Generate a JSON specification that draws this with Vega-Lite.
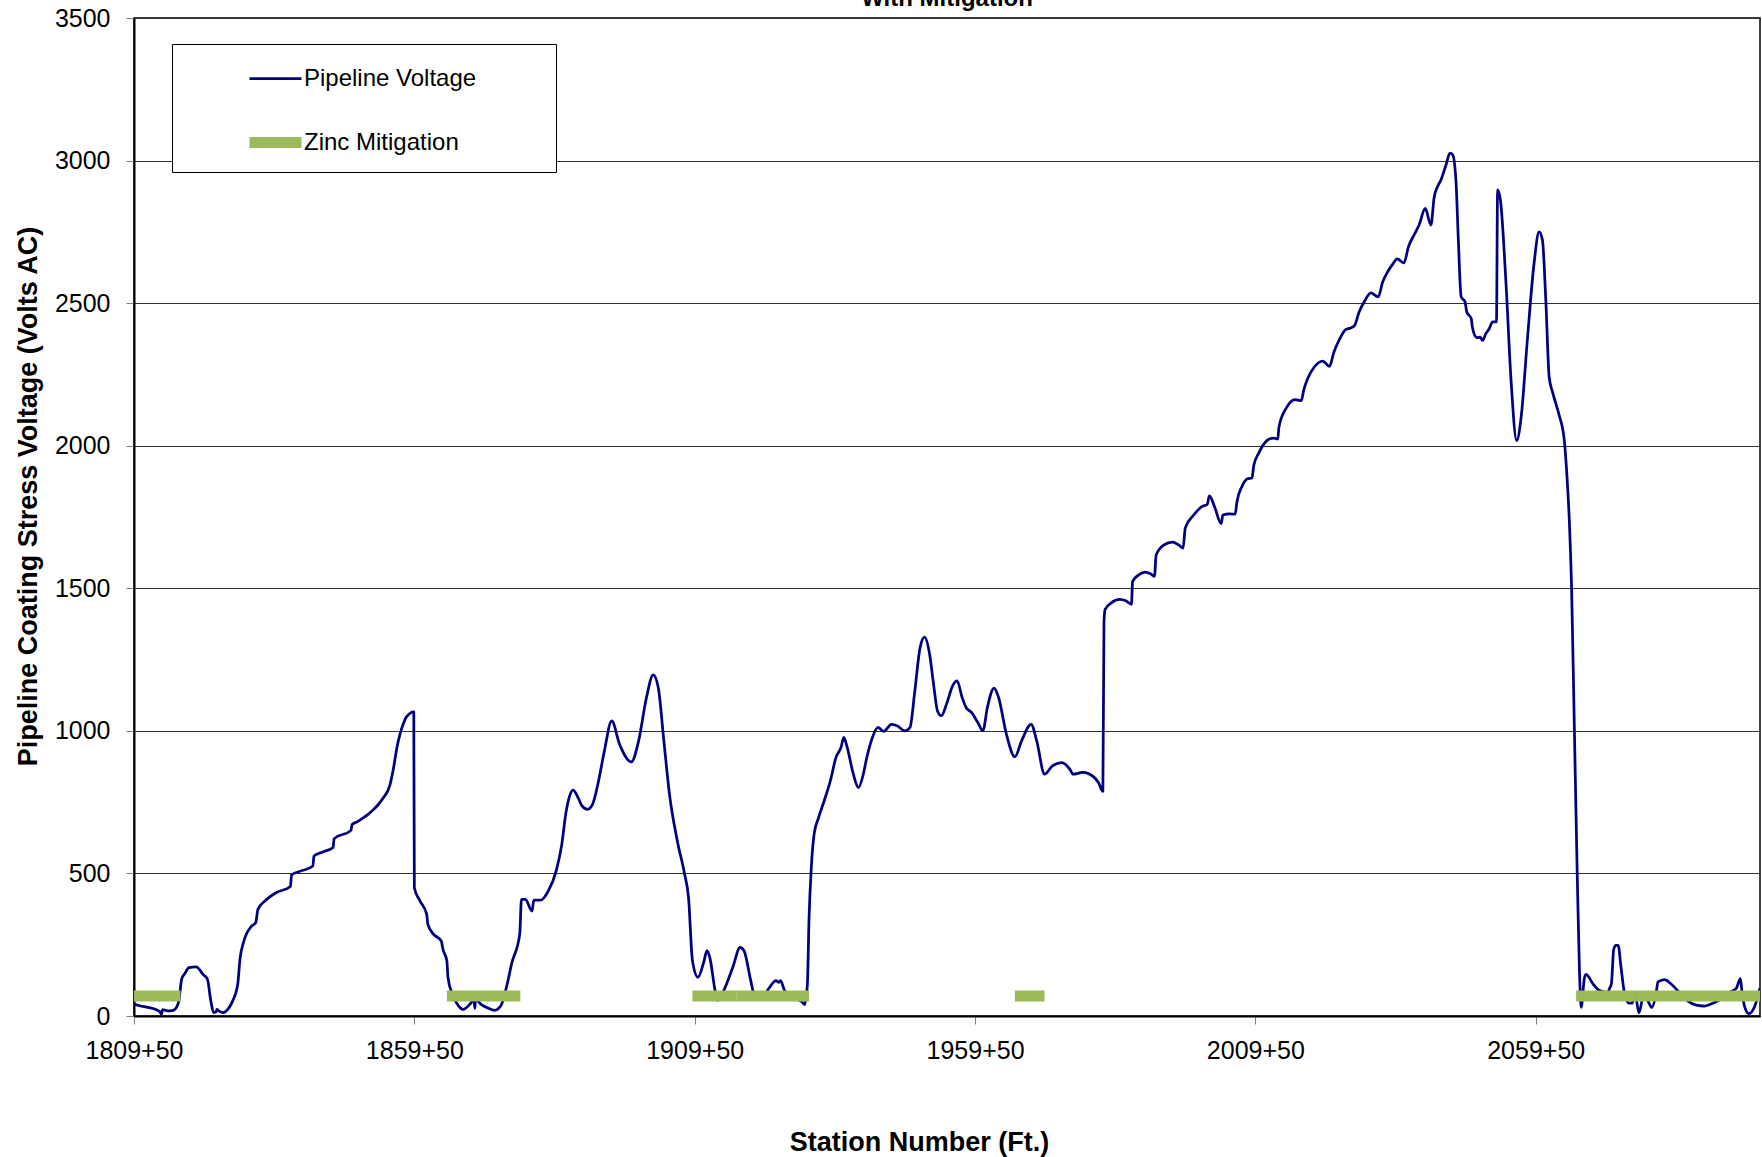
{
  "$schema": "https://vega.github.io/schema/vega-lite/v6.json",
  "width": 1626,
  "height": 998,
  "autosize": {"type": "none"},
  "padding": {"left": 134, "top": 18, "right": 2, "bottom": 141},
  "background": "white",
  "config": {
    "font": "Liberation Sans",
    "view": {"stroke": "#000", "strokeWidth": 1.5},
    "axis": {"labelColor": "#000", "titleColor": "#000", "labelFont": "Liberation Sans", "titleFont": "Liberation Sans"}
  },
  "title": {"text": "With Mitigation", "fontSize": 24, "fontWeight": "bold", "anchor": "middle", "frame": "group", "baseline": "bottom", "offset": -29, "color": "#000"},
  "datasets": {
    "voltage": [
      {"station": 1809.5, "volts": 42, "series": "Pipeline Voltage"},
      {"station": 1810.5, "volts": 36, "series": "Pipeline Voltage"},
      {"station": 1812.0, "volts": 30, "series": "Pipeline Voltage"},
      {"station": 1813.5, "volts": 22, "series": "Pipeline Voltage"},
      {"station": 1814.1, "volts": 15, "series": "Pipeline Voltage"},
      {"station": 1814.4, "volts": 6, "series": "Pipeline Voltage"},
      {"station": 1814.6, "volts": 22, "series": "Pipeline Voltage"},
      {"station": 1815.5, "volts": 18, "series": "Pipeline Voltage"},
      {"station": 1816.5, "volts": 20, "series": "Pipeline Voltage"},
      {"station": 1817.2, "volts": 35, "series": "Pipeline Voltage"},
      {"station": 1817.5, "volts": 53, "series": "Pipeline Voltage"},
      {"station": 1818.0, "volts": 129, "series": "Pipeline Voltage"},
      {"station": 1818.6, "volts": 150, "series": "Pipeline Voltage"},
      {"station": 1819.3, "volts": 170, "series": "Pipeline Voltage"},
      {"station": 1820.6, "volts": 172, "series": "Pipeline Voltage"},
      {"station": 1821.8, "volts": 146, "series": "Pipeline Voltage"},
      {"station": 1822.6, "volts": 129, "series": "Pipeline Voltage"},
      {"station": 1823.2, "volts": 53, "series": "Pipeline Voltage"},
      {"station": 1823.7, "volts": 12, "series": "Pipeline Voltage"},
      {"station": 1824.1, "volts": 14, "series": "Pipeline Voltage"},
      {"station": 1824.3, "volts": 23, "series": "Pipeline Voltage"},
      {"station": 1824.7, "volts": 17, "series": "Pipeline Voltage"},
      {"station": 1825.4, "volts": 12, "series": "Pipeline Voltage"},
      {"station": 1826.3, "volts": 25, "series": "Pipeline Voltage"},
      {"station": 1827.1, "volts": 53, "series": "Pipeline Voltage"},
      {"station": 1828.0, "volts": 111, "series": "Pipeline Voltage"},
      {"station": 1828.4, "volts": 199, "series": "Pipeline Voltage"},
      {"station": 1829.1, "volts": 263, "series": "Pipeline Voltage"},
      {"station": 1830.5, "volts": 316, "series": "Pipeline Voltage"},
      {"station": 1831.2, "volts": 327, "series": "Pipeline Voltage"},
      {"station": 1831.6, "volts": 374, "series": "Pipeline Voltage"},
      {"station": 1832.9, "volts": 404, "series": "Pipeline Voltage"},
      {"station": 1834.9, "volts": 433, "series": "Pipeline Voltage"},
      {"station": 1837.4, "volts": 454, "series": "Pipeline Voltage"},
      {"station": 1837.6, "volts": 495, "series": "Pipeline Voltage"},
      {"station": 1839.5, "volts": 510, "series": "Pipeline Voltage"},
      {"station": 1841.4, "volts": 526, "series": "Pipeline Voltage"},
      {"station": 1841.6, "volts": 561, "series": "Pipeline Voltage"},
      {"station": 1843.3, "volts": 576, "series": "Pipeline Voltage"},
      {"station": 1845.0, "volts": 591, "series": "Pipeline Voltage"},
      {"station": 1845.2, "volts": 622, "series": "Pipeline Voltage"},
      {"station": 1848.2, "volts": 651, "series": "Pipeline Voltage"},
      {"station": 1848.4, "volts": 672, "series": "Pipeline Voltage"},
      {"station": 1849.3, "volts": 681, "series": "Pipeline Voltage"},
      {"station": 1850.3, "volts": 694, "series": "Pipeline Voltage"},
      {"station": 1851.3, "volts": 708, "series": "Pipeline Voltage"},
      {"station": 1852.1, "volts": 722, "series": "Pipeline Voltage"},
      {"station": 1853.0, "volts": 740, "series": "Pipeline Voltage"},
      {"station": 1854.0, "volts": 766, "series": "Pipeline Voltage"},
      {"station": 1855.1, "volts": 807, "series": "Pipeline Voltage"},
      {"station": 1855.7, "volts": 860, "series": "Pipeline Voltage"},
      {"station": 1856.4, "volts": 942, "series": "Pipeline Voltage"},
      {"station": 1857.5, "volts": 1023, "series": "Pipeline Voltage"},
      {"station": 1858.1, "volts": 1049, "series": "Pipeline Voltage"},
      {"station": 1859.4, "volts": 1067, "series": "Pipeline Voltage"},
      {"station": 1859.5, "volts": 450, "series": "Pipeline Voltage"},
      {"station": 1860.5, "volts": 404, "series": "Pipeline Voltage"},
      {"station": 1861.7, "volts": 357, "series": "Pipeline Voltage"},
      {"station": 1861.9, "volts": 322, "series": "Pipeline Voltage"},
      {"station": 1862.9, "volts": 287, "series": "Pipeline Voltage"},
      {"station": 1864.3, "volts": 263, "series": "Pipeline Voltage"},
      {"station": 1864.6, "volts": 234, "series": "Pipeline Voltage"},
      {"station": 1865.3, "volts": 193, "series": "Pipeline Voltage"},
      {"station": 1865.5, "volts": 135, "series": "Pipeline Voltage"},
      {"station": 1866.3, "volts": 76, "series": "Pipeline Voltage"},
      {"station": 1867.4, "volts": 35, "series": "Pipeline Voltage"},
      {"station": 1868.2, "volts": 23, "series": "Pipeline Voltage"},
      {"station": 1869.4, "volts": 41, "series": "Pipeline Voltage"},
      {"station": 1870.1, "volts": 58, "series": "Pipeline Voltage"},
      {"station": 1870.3, "volts": 27, "series": "Pipeline Voltage"},
      {"station": 1870.4, "volts": 58, "series": "Pipeline Voltage"},
      {"station": 1871.4, "volts": 41, "series": "Pipeline Voltage"},
      {"station": 1872.6, "volts": 28, "series": "Pipeline Voltage"},
      {"station": 1873.8, "volts": 20, "series": "Pipeline Voltage"},
      {"station": 1874.9, "volts": 35, "series": "Pipeline Voltage"},
      {"station": 1875.9, "volts": 99, "series": "Pipeline Voltage"},
      {"station": 1876.9, "volts": 187, "series": "Pipeline Voltage"},
      {"station": 1878.3, "volts": 287, "series": "Pipeline Voltage"},
      {"station": 1878.6, "volts": 409, "series": "Pipeline Voltage"},
      {"station": 1879.3, "volts": 409, "series": "Pipeline Voltage"},
      {"station": 1880.5, "volts": 368, "series": "Pipeline Voltage"},
      {"station": 1880.8, "volts": 406, "series": "Pipeline Voltage"},
      {"station": 1882.0, "volts": 406, "series": "Pipeline Voltage"},
      {"station": 1883.4, "volts": 439, "series": "Pipeline Voltage"},
      {"station": 1884.8, "volts": 509, "series": "Pipeline Voltage"},
      {"station": 1885.8, "volts": 602, "series": "Pipeline Voltage"},
      {"station": 1886.5, "volts": 708, "series": "Pipeline Voltage"},
      {"station": 1887.2, "volts": 772, "series": "Pipeline Voltage"},
      {"station": 1887.8, "volts": 792, "series": "Pipeline Voltage"},
      {"station": 1888.7, "volts": 766, "series": "Pipeline Voltage"},
      {"station": 1889.4, "volts": 737, "series": "Pipeline Voltage"},
      {"station": 1890.4, "volts": 725, "series": "Pipeline Voltage"},
      {"station": 1891.3, "volts": 743, "series": "Pipeline Voltage"},
      {"station": 1892.3, "volts": 819, "series": "Pipeline Voltage"},
      {"station": 1893.4, "volts": 930, "series": "Pipeline Voltage"},
      {"station": 1894.7, "volts": 1035, "series": "Pipeline Voltage"},
      {"station": 1896.1, "volts": 953, "series": "Pipeline Voltage"},
      {"station": 1898.2, "volts": 891, "series": "Pipeline Voltage"},
      {"station": 1899.5, "volts": 965, "series": "Pipeline Voltage"},
      {"station": 1900.9, "volts": 1117, "series": "Pipeline Voltage"},
      {"station": 1902.1, "volts": 1196, "series": "Pipeline Voltage"},
      {"station": 1903.0, "volts": 1152, "series": "Pipeline Voltage"},
      {"station": 1904.0, "volts": 965, "series": "Pipeline Voltage"},
      {"station": 1905.0, "volts": 778, "series": "Pipeline Voltage"},
      {"station": 1906.4, "volts": 614, "series": "Pipeline Voltage"},
      {"station": 1907.7, "volts": 498, "series": "Pipeline Voltage"},
      {"station": 1908.4, "volts": 416, "series": "Pipeline Voltage"},
      {"station": 1909.1, "volts": 194, "series": "Pipeline Voltage"},
      {"station": 1910.1, "volts": 136, "series": "Pipeline Voltage"},
      {"station": 1911.1, "volts": 188, "series": "Pipeline Voltage"},
      {"station": 1911.7, "volts": 229, "series": "Pipeline Voltage"},
      {"station": 1912.2, "volts": 205, "series": "Pipeline Voltage"},
      {"station": 1913.2, "volts": 83, "series": "Pipeline Voltage"},
      {"station": 1913.6, "volts": 55, "series": "Pipeline Voltage"},
      {"station": 1914.2, "volts": 70, "series": "Pipeline Voltage"},
      {"station": 1916.3, "volts": 171, "series": "Pipeline Voltage"},
      {"station": 1917.6, "volts": 241, "series": "Pipeline Voltage"},
      {"station": 1918.3, "volts": 229, "series": "Pipeline Voltage"},
      {"station": 1919.5, "volts": 124, "series": "Pipeline Voltage"},
      {"station": 1920.0, "volts": 83, "series": "Pipeline Voltage"},
      {"station": 1921.4, "volts": 60, "series": "Pipeline Voltage"},
      {"station": 1922.7, "volts": 96, "series": "Pipeline Voltage"},
      {"station": 1924.0, "volts": 124, "series": "Pipeline Voltage"},
      {"station": 1924.5, "volts": 118, "series": "Pipeline Voltage"},
      {"station": 1924.8, "volts": 124, "series": "Pipeline Voltage"},
      {"station": 1925.5, "volts": 91, "series": "Pipeline Voltage"},
      {"station": 1926.8, "volts": 65, "series": "Pipeline Voltage"},
      {"station": 1928.6, "volts": 50, "series": "Pipeline Voltage"},
      {"station": 1929.1, "volts": 40, "series": "Pipeline Voltage"},
      {"station": 1929.6, "volts": 112, "series": "Pipeline Voltage"},
      {"station": 1929.9, "volts": 346, "series": "Pipeline Voltage"},
      {"station": 1930.3, "volts": 521, "series": "Pipeline Voltage"},
      {"station": 1930.8, "volts": 638, "series": "Pipeline Voltage"},
      {"station": 1931.6, "volts": 696, "series": "Pipeline Voltage"},
      {"station": 1932.6, "volts": 755, "series": "Pipeline Voltage"},
      {"station": 1933.7, "volts": 825, "series": "Pipeline Voltage"},
      {"station": 1934.7, "volts": 907, "series": "Pipeline Voltage"},
      {"station": 1935.6, "volts": 942, "series": "Pipeline Voltage"},
      {"station": 1936.1, "volts": 977, "series": "Pipeline Voltage"},
      {"station": 1936.7, "volts": 942, "series": "Pipeline Voltage"},
      {"station": 1937.8, "volts": 848, "series": "Pipeline Voltage"},
      {"station": 1938.7, "volts": 801, "series": "Pipeline Voltage"},
      {"station": 1939.5, "volts": 842, "series": "Pipeline Voltage"},
      {"station": 1940.2, "volts": 907, "series": "Pipeline Voltage"},
      {"station": 1941.2, "volts": 977, "series": "Pipeline Voltage"},
      {"station": 1942.2, "volts": 1012, "series": "Pipeline Voltage"},
      {"station": 1943.2, "volts": 998, "series": "Pipeline Voltage"},
      {"station": 1944.6, "volts": 1023, "series": "Pipeline Voltage"},
      {"station": 1945.6, "volts": 1018, "series": "Pipeline Voltage"},
      {"station": 1947.0, "volts": 1000, "series": "Pipeline Voltage"},
      {"station": 1947.9, "volts": 1012, "series": "Pipeline Voltage"},
      {"station": 1948.7, "volts": 1129, "series": "Pipeline Voltage"},
      {"station": 1949.7, "volts": 1292, "series": "Pipeline Voltage"},
      {"station": 1950.5, "volts": 1329, "series": "Pipeline Voltage"},
      {"station": 1951.4, "volts": 1269, "series": "Pipeline Voltage"},
      {"station": 1952.1, "volts": 1164, "series": "Pipeline Voltage"},
      {"station": 1952.8, "volts": 1070, "series": "Pipeline Voltage"},
      {"station": 1953.5, "volts": 1053, "series": "Pipeline Voltage"},
      {"station": 1954.5, "volts": 1099, "series": "Pipeline Voltage"},
      {"station": 1955.5, "volts": 1158, "series": "Pipeline Voltage"},
      {"station": 1956.3, "volts": 1175, "series": "Pipeline Voltage"},
      {"station": 1957.2, "volts": 1117, "series": "Pipeline Voltage"},
      {"station": 1957.9, "volts": 1082, "series": "Pipeline Voltage"},
      {"station": 1958.9, "volts": 1064, "series": "Pipeline Voltage"},
      {"station": 1960.0, "volts": 1029, "series": "Pipeline Voltage"},
      {"station": 1960.9, "volts": 1000, "series": "Pipeline Voltage"},
      {"station": 1961.7, "volts": 1082, "series": "Pipeline Voltage"},
      {"station": 1962.9, "volts": 1150, "series": "Pipeline Voltage"},
      {"station": 1963.7, "volts": 1117, "series": "Pipeline Voltage"},
      {"station": 1965.1, "volts": 988, "series": "Pipeline Voltage"},
      {"station": 1966.6, "volts": 909, "series": "Pipeline Voltage"},
      {"station": 1967.8, "volts": 965, "series": "Pipeline Voltage"},
      {"station": 1969.5, "volts": 1023, "series": "Pipeline Voltage"},
      {"station": 1970.5, "volts": 965, "series": "Pipeline Voltage"},
      {"station": 1971.9, "volts": 848, "series": "Pipeline Voltage"},
      {"station": 1973.3, "volts": 877, "series": "Pipeline Voltage"},
      {"station": 1975.0, "volts": 889, "series": "Pipeline Voltage"},
      {"station": 1976.4, "volts": 866, "series": "Pipeline Voltage"},
      {"station": 1977.0, "volts": 848, "series": "Pipeline Voltage"},
      {"station": 1978.7, "volts": 854, "series": "Pipeline Voltage"},
      {"station": 1980.8, "volts": 836, "series": "Pipeline Voltage"},
      {"station": 1981.5, "volts": 819, "series": "Pipeline Voltage"},
      {"station": 1982.3, "volts": 788, "series": "Pipeline Voltage"},
      {"station": 1982.5, "volts": 1381, "series": "Pipeline Voltage"},
      {"station": 1982.7, "volts": 1426, "series": "Pipeline Voltage"},
      {"station": 1983.8, "volts": 1449, "series": "Pipeline Voltage"},
      {"station": 1985.3, "volts": 1461, "series": "Pipeline Voltage"},
      {"station": 1986.4, "volts": 1456, "series": "Pipeline Voltage"},
      {"station": 1987.4, "volts": 1444, "series": "Pipeline Voltage"},
      {"station": 1987.6, "volts": 1524, "series": "Pipeline Voltage"},
      {"station": 1988.7, "volts": 1547, "series": "Pipeline Voltage"},
      {"station": 1989.8, "volts": 1557, "series": "Pipeline Voltage"},
      {"station": 1990.8, "volts": 1551, "series": "Pipeline Voltage"},
      {"station": 1991.5, "volts": 1542, "series": "Pipeline Voltage"},
      {"station": 1991.8, "volts": 1617, "series": "Pipeline Voltage"},
      {"station": 1993.2, "volts": 1652, "series": "Pipeline Voltage"},
      {"station": 1994.7, "volts": 1662, "series": "Pipeline Voltage"},
      {"station": 1995.8, "volts": 1652, "series": "Pipeline Voltage"},
      {"station": 1996.6, "volts": 1641, "series": "Pipeline Voltage"},
      {"station": 1997.0, "volts": 1712, "series": "Pipeline Voltage"},
      {"station": 1998.5, "volts": 1757, "series": "Pipeline Voltage"},
      {"station": 2000.0, "volts": 1787, "series": "Pipeline Voltage"},
      {"station": 2000.9, "volts": 1794, "series": "Pipeline Voltage"},
      {"station": 2001.3, "volts": 1824, "series": "Pipeline Voltage"},
      {"station": 2002.2, "volts": 1787, "series": "Pipeline Voltage"},
      {"station": 2003.4, "volts": 1727, "series": "Pipeline Voltage"},
      {"station": 2003.7, "volts": 1757, "series": "Pipeline Voltage"},
      {"station": 2004.9, "volts": 1761, "series": "Pipeline Voltage"},
      {"station": 2005.9, "volts": 1760, "series": "Pipeline Voltage"},
      {"station": 2006.2, "volts": 1802, "series": "Pipeline Voltage"},
      {"station": 2007.1, "volts": 1857, "series": "Pipeline Voltage"},
      {"station": 2008.1, "volts": 1884, "series": "Pipeline Voltage"},
      {"station": 2008.9, "volts": 1887, "series": "Pipeline Voltage"},
      {"station": 2009.2, "volts": 1929, "series": "Pipeline Voltage"},
      {"station": 2010.1, "volts": 1974, "series": "Pipeline Voltage"},
      {"station": 2011.7, "volts": 2020, "series": "Pipeline Voltage"},
      {"station": 2012.8, "volts": 2027, "series": "Pipeline Voltage"},
      {"station": 2013.5, "volts": 2023, "series": "Pipeline Voltage"},
      {"station": 2013.7, "volts": 2065, "series": "Pipeline Voltage"},
      {"station": 2015.0, "volts": 2132, "series": "Pipeline Voltage"},
      {"station": 2016.6, "volts": 2162, "series": "Pipeline Voltage"},
      {"station": 2017.7, "volts": 2158, "series": "Pipeline Voltage"},
      {"station": 2018.1, "volts": 2193, "series": "Pipeline Voltage"},
      {"station": 2018.8, "volts": 2234, "series": "Pipeline Voltage"},
      {"station": 2020.0, "volts": 2276, "series": "Pipeline Voltage"},
      {"station": 2021.5, "volts": 2297, "series": "Pipeline Voltage"},
      {"station": 2022.7, "volts": 2278, "series": "Pipeline Voltage"},
      {"station": 2023.5, "volts": 2328, "series": "Pipeline Voltage"},
      {"station": 2024.4, "volts": 2369, "series": "Pipeline Voltage"},
      {"station": 2025.6, "volts": 2407, "series": "Pipeline Voltage"},
      {"station": 2026.5, "volts": 2413, "series": "Pipeline Voltage"},
      {"station": 2027.2, "volts": 2422, "series": "Pipeline Voltage"},
      {"station": 2028.0, "volts": 2469, "series": "Pipeline Voltage"},
      {"station": 2028.9, "volts": 2504, "series": "Pipeline Voltage"},
      {"station": 2030.1, "volts": 2536, "series": "Pipeline Voltage"},
      {"station": 2031.4, "volts": 2522, "series": "Pipeline Voltage"},
      {"station": 2032.2, "volts": 2574, "series": "Pipeline Voltage"},
      {"station": 2033.1, "volts": 2610, "series": "Pipeline Voltage"},
      {"station": 2034.0, "volts": 2637, "series": "Pipeline Voltage"},
      {"station": 2034.8, "volts": 2655, "series": "Pipeline Voltage"},
      {"station": 2036.0, "volts": 2641, "series": "Pipeline Voltage"},
      {"station": 2036.8, "volts": 2698, "series": "Pipeline Voltage"},
      {"station": 2037.8, "volts": 2739, "series": "Pipeline Voltage"},
      {"station": 2038.7, "volts": 2774, "series": "Pipeline Voltage"},
      {"station": 2039.8, "volts": 2832, "series": "Pipeline Voltage"},
      {"station": 2040.8, "volts": 2774, "series": "Pipeline Voltage"},
      {"station": 2041.4, "volts": 2873, "series": "Pipeline Voltage"},
      {"station": 2042.0, "volts": 2909, "series": "Pipeline Voltage"},
      {"station": 2042.6, "volts": 2932, "series": "Pipeline Voltage"},
      {"station": 2043.5, "volts": 2985, "series": "Pipeline Voltage"},
      {"station": 2044.2, "volts": 3026, "series": "Pipeline Voltage"},
      {"station": 2044.7, "volts": 3020, "series": "Pipeline Voltage"},
      {"station": 2045.3, "volts": 2920, "series": "Pipeline Voltage"},
      {"station": 2045.7, "volts": 2721, "series": "Pipeline Voltage"},
      {"station": 2046.2, "volts": 2522, "series": "Pipeline Voltage"},
      {"station": 2046.9, "volts": 2504, "series": "Pipeline Voltage"},
      {"station": 2047.2, "volts": 2469, "series": "Pipeline Voltage"},
      {"station": 2048.0, "volts": 2446, "series": "Pipeline Voltage"},
      {"station": 2048.2, "volts": 2416, "series": "Pipeline Voltage"},
      {"station": 2049.0, "volts": 2379, "series": "Pipeline Voltage"},
      {"station": 2049.6, "volts": 2381, "series": "Pipeline Voltage"},
      {"station": 2050.0, "volts": 2369, "series": "Pipeline Voltage"},
      {"station": 2050.6, "volts": 2393, "series": "Pipeline Voltage"},
      {"station": 2051.2, "volts": 2410, "series": "Pipeline Voltage"},
      {"station": 2051.8, "volts": 2434, "series": "Pipeline Voltage"},
      {"station": 2052.5, "volts": 2434, "series": "Pipeline Voltage"},
      {"station": 2052.7, "volts": 2897, "series": "Pipeline Voltage"},
      {"station": 2053.2, "volts": 2862, "series": "Pipeline Voltage"},
      {"station": 2054.2, "volts": 2569, "series": "Pipeline Voltage"},
      {"station": 2055.1, "volts": 2229, "series": "Pipeline Voltage"},
      {"station": 2056.1, "volts": 2018, "series": "Pipeline Voltage"},
      {"station": 2056.9, "volts": 2100, "series": "Pipeline Voltage"},
      {"station": 2058.0, "volts": 2369, "series": "Pipeline Voltage"},
      {"station": 2059.2, "volts": 2639, "series": "Pipeline Voltage"},
      {"station": 2060.1, "volts": 2750, "series": "Pipeline Voltage"},
      {"station": 2060.7, "volts": 2721, "series": "Pipeline Voltage"},
      {"station": 2061.3, "volts": 2510, "series": "Pipeline Voltage"},
      {"station": 2061.9, "volts": 2240, "series": "Pipeline Voltage"},
      {"station": 2062.5, "volts": 2188, "series": "Pipeline Voltage"},
      {"station": 2063.1, "volts": 2147, "series": "Pipeline Voltage"},
      {"station": 2063.7, "volts": 2106, "series": "Pipeline Voltage"},
      {"station": 2064.6, "volts": 2018, "series": "Pipeline Voltage"},
      {"station": 2065.1, "volts": 1884, "series": "Pipeline Voltage"},
      {"station": 2065.5, "volts": 1734, "series": "Pipeline Voltage"},
      {"station": 2065.9, "volts": 1500, "series": "Pipeline Voltage"},
      {"station": 2066.4, "volts": 1000, "series": "Pipeline Voltage"},
      {"station": 2066.9, "volts": 500, "series": "Pipeline Voltage"},
      {"station": 2067.3, "volts": 158, "series": "Pipeline Voltage"},
      {"station": 2067.6, "volts": 30, "series": "Pipeline Voltage"},
      {"station": 2068.2, "volts": 135, "series": "Pipeline Voltage"},
      {"station": 2068.5, "volts": 146, "series": "Pipeline Voltage"},
      {"station": 2069.7, "volts": 113, "series": "Pipeline Voltage"},
      {"station": 2070.8, "volts": 90, "series": "Pipeline Voltage"},
      {"station": 2072.3, "volts": 83, "series": "Pipeline Voltage"},
      {"station": 2072.7, "volts": 98, "series": "Pipeline Voltage"},
      {"station": 2073.0, "volts": 113, "series": "Pipeline Voltage"},
      {"station": 2073.4, "volts": 233, "series": "Pipeline Voltage"},
      {"station": 2073.8, "volts": 248, "series": "Pipeline Voltage"},
      {"station": 2074.2, "volts": 248, "series": "Pipeline Voltage"},
      {"station": 2074.7, "volts": 173, "series": "Pipeline Voltage"},
      {"station": 2075.3, "volts": 83, "series": "Pipeline Voltage"},
      {"station": 2076.1, "volts": 45, "series": "Pipeline Voltage"},
      {"station": 2076.7, "volts": 45, "series": "Pipeline Voltage"},
      {"station": 2077.2, "volts": 83, "series": "Pipeline Voltage"},
      {"station": 2077.9, "volts": 11, "series": "Pipeline Voltage"},
      {"station": 2078.7, "volts": 68, "series": "Pipeline Voltage"},
      {"station": 2079.5, "volts": 53, "series": "Pipeline Voltage"},
      {"station": 2080.2, "volts": 30, "series": "Pipeline Voltage"},
      {"station": 2081.0, "volts": 83, "series": "Pipeline Voltage"},
      {"station": 2081.3, "volts": 120, "series": "Pipeline Voltage"},
      {"station": 2082.5, "volts": 128, "series": "Pipeline Voltage"},
      {"station": 2083.6, "volts": 113, "series": "Pipeline Voltage"},
      {"station": 2085.1, "volts": 83, "series": "Pipeline Voltage"},
      {"station": 2086.6, "volts": 53, "series": "Pipeline Voltage"},
      {"station": 2088.1, "volts": 38, "series": "Pipeline Voltage"},
      {"station": 2089.6, "volts": 35, "series": "Pipeline Voltage"},
      {"station": 2091.1, "volts": 45, "series": "Pipeline Voltage"},
      {"station": 2092.6, "volts": 60, "series": "Pipeline Voltage"},
      {"station": 2094.1, "volts": 83, "series": "Pipeline Voltage"},
      {"station": 2095.3, "volts": 98, "series": "Pipeline Voltage"},
      {"station": 2096.0, "volts": 131, "series": "Pipeline Voltage"},
      {"station": 2096.3, "volts": 83, "series": "Pipeline Voltage"},
      {"station": 2096.8, "volts": 30, "series": "Pipeline Voltage"},
      {"station": 2097.5, "volts": 8, "series": "Pipeline Voltage"},
      {"station": 2098.3, "volts": 23, "series": "Pipeline Voltage"},
      {"station": 2099.0, "volts": 60, "series": "Pipeline Voltage"},
      {"station": 2099.5, "volts": 98, "series": "Pipeline Voltage"}
    ],
    "zinc": [
      {"start": 1809.5, "end": 1817.8, "volts": 70, "series": "Zinc Mitigation"},
      {"start": 1865.3, "end": 1878.4, "volts": 70, "series": "Zinc Mitigation"},
      {"start": 1909.1, "end": 1916.9, "volts": 70, "series": "Zinc Mitigation"},
      {"start": 1916.9, "end": 1929.9, "volts": 70, "series": "Zinc Mitigation"},
      {"start": 1966.6, "end": 1971.9, "volts": 70, "series": "Zinc Mitigation"},
      {"start": 2066.7, "end": 2077.4, "volts": 70, "series": "Zinc Mitigation"},
      {"start": 2077.4, "end": 2099.5, "volts": 70, "series": "Zinc Mitigation"}
    ]
  },
  "layer": [
    {
      "data": {"name": "voltage"},
      "mark": {"type": "line", "interpolate": "monotone", "strokeJoin": "round", "clip": true},
      "encoding": {
        "x": {
          "field": "station", "type": "quantitative",
          "scale": {"domain": [1809.5, 2099.5], "nice": false, "zero": false},
          "axis": {
            "values": [1809.5, 1859.5, 1909.5, 1959.5, 2009.5, 2059.5],
            "labelExpr": "floor(datum.value) + '+50'",
            "labelFontSize": 25, "labelFlush": false, "labelOverlap": false, "labelPadding": 14,
            "tickSize": 8, "tickColor": "#808080", "domainColor": "#000", "domainWidth": 2, "grid": false,
            "title": "Station Number (Ft.)", "titleFontSize": 27, "titleFontWeight": "bold", "titlePadding": 66, "titleX": 785
          }
        },
        "y": {
          "field": "volts", "type": "quantitative",
          "scale": {"domain": [0, 3500], "nice": false},
          "axis": {
            "values": [0, 500, 1000, 1500, 2000, 2500, 3000, 3500],
            "format": "d",
            "labelFontSize": 25, "labelFlush": false, "labelOverlap": false, "labelPadding": 16,
            "tickSize": 8, "tickColor": "#808080", "domainColor": "#000", "domainWidth": 2,
            "grid": true, "gridColor": "#303030", "gridWidth": 1,
            "title": "Pipeline Coating Stress Voltage (Volts AC)", "titleFontSize": 27, "titleFontWeight": "bold", "titlePadding": 12, "titleY": 478
          }
        },
        "color": {
          "field": "series", "type": "nominal",
          "scale": {"domain": ["Pipeline Voltage", "Zinc Mitigation"], "range": ["#000080", "#9BBB59"]},
          "legend": {
            "orient": "none", "legendX": 38, "legendY": 26, "title": null,
            "symbolType": "stroke", "symbolSize": 2704, "labelFontSize": 24, "labelColor": "#000", "labelLimit": 600,
            "labelOffset": -3, "rowPadding": 20, "padding": 7, "strokeColor": "#000", "fillColor": "#fff",
            "symbolOffset": 65,
            "labelExpr": "datum.label + '\u2800\u2800\u2800\u2800'"
          }
        },
        "strokeWidth": {
          "field": "series", "type": "nominal",
          "scale": {"domain": ["Pipeline Voltage", "Zinc Mitigation"], "range": [2.75, 11]},
          "legend": {
            "orient": "none", "legendX": 38, "legendY": 26, "title": null,
            "symbolType": "stroke", "symbolSize": 2704, "labelFontSize": 24, "labelColor": "#000", "labelLimit": 600,
            "labelOffset": -3, "rowPadding": 20, "padding": 7, "strokeColor": "#000", "fillColor": "#fff",
            "symbolOffset": 65,
            "labelExpr": "datum.label + '\u2800\u2800\u2800\u2800'"
          }
        }
      }
    },
    {
      "data": {"name": "zinc"},
      "mark": {"type": "rule", "strokeCap": "butt"},
      "encoding": {
        "x": {"field": "start", "type": "quantitative"},
        "x2": {"field": "end"},
        "y": {"field": "volts", "type": "quantitative"},
        "color": {"field": "series", "type": "nominal"},
        "strokeWidth": {"field": "series", "type": "nominal"}
      }
    }
  ]
}
